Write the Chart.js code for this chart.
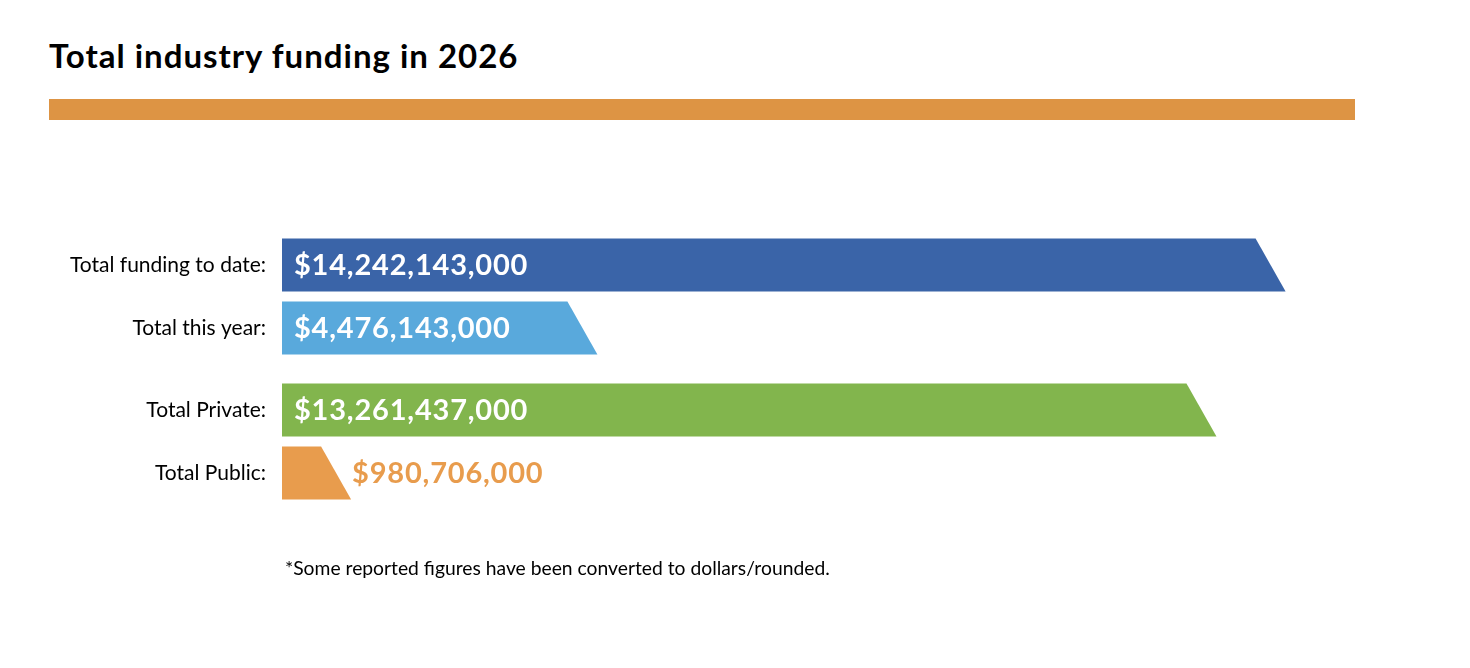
<!DOCTYPE html>
<html>
<head>
<meta charset="utf-8">
<script src="https://cdn.jsdelivr.net/npm/chart.js@4/dist/chart.umd.min.js"></script>
<style>
  html, body { margin: 0; padding: 0; background: #ffffff; }
  body { width: 1470px; height: 668px; position: relative; overflow: hidden; font-family: Lato, sans-serif; }
  #title { position: absolute; left: 49px; top: 35px; font-size: 33px; letter-spacing: 1px; font-weight: 700; color: #000; margin: 0; white-space: nowrap; }
  #rule { position: absolute; left: 49px; top: 99px; width: 1306px; height: 21px; background: #dd9444; }
  #note { position: absolute; left: 285px; top: 556px; font-size: 19.3px; color: #000; white-space: nowrap; }
  #wrap { position: absolute; left: 0; top: 0; width: 1470px; height: 668px; }
</style>
</head>
<body>
<h1 id="title">Total industry funding in 2026</h1>
<div id="rule"></div>
<div id="wrap"><canvas id="fundingChart"></canvas></div>
<div id="note">*Some reported figures have been converted to dollars/rounded.</div>
<script>
(function () {
  'use strict';

  var categories = ['Total funding to date:', 'Total this year:', 'Total Private:', 'Total Public:'];
  var amounts = [14242143000, 4476143000, 13261437000, 980706000];
  var rowPositions = [0, 1, 2.3, 3.3];
  var barColors = ['#3a64a8', '#59a9dc', '#82b54d', '#e89c4d'];

  var SLANT = 30;

  function formatDollars(value) {
    return '$' + new Intl.NumberFormat('en-US').format(value);
  }

  // bars with a slanted right end, plus the value text
  var slantedBars = {
    id: 'slantedBars',
    afterDatasetsDraw: function (chart) {
      var ctx = chart.ctx;
      var meta = chart.getDatasetMeta(0);
      ctx.save();
      meta.data.forEach(function (bar, i) {
        var top = bar.y - bar.height / 2;
        var bottom = bar.y + bar.height / 2;
        ctx.fillStyle = barColors[i];
        ctx.beginPath();
        ctx.moveTo(bar.base, top);
        ctx.lineTo(bar.x - SLANT, top);
        ctx.lineTo(bar.x, bottom);
        ctx.lineTo(bar.base, bottom);
        ctx.closePath();
        ctx.fill();

        var text = formatDollars(amounts[i]);
        ctx.font = '700 29px Lato, sans-serif';
        ctx.letterSpacing = '0.8px';
        ctx.textBaseline = 'middle';
        ctx.textAlign = 'left';
        var w = ctx.measureText(text).width;
        if (w + 24 < bar.x - SLANT - bar.base) {
          ctx.fillStyle = '#ffffff';
          ctx.fillText(text, bar.base + 12, bar.y + 1);
        } else {
          ctx.fillStyle = barColors[i];
          ctx.fillText(text, bar.x + 1, bar.y + 1);
        }
      });
      ctx.restore();
    }
  };

  function renderChart() {
    var canvas = document.getElementById('fundingChart');
    if (!canvas || typeof Chart === 'undefined') return;

    new Chart(canvas, {
      type: 'bar',
      data: {
        datasets: [{
          data: amounts.map(function (v, i) { return { x: v, y: rowPositions[i] }; }),
          backgroundColor: 'rgba(0,0,0,0)',
          borderWidth: 0,
          barThickness: 53
        }]
      },
      options: {
        indexAxis: 'y',
        responsive: true,
        maintainAspectRatio: false,
        animation: false,
        layout: { padding: { left: 0, right: 131, top: 233.5, bottom: 163.6 } },
        scales: {
          x: {
            type: 'linear',
            min: 0,
            max: 15000000000,
            display: false
          },
          y: {
            type: 'linear',
            reverse: true,
            offset: false,
            min: -0.5,
            max: 3.8,
            grid: { display: false, drawTicks: false },
            border: { display: false },
            afterBuildTicks: function (axis) {
              axis.ticks = rowPositions.map(function (v) { return { value: v }; });
            },
            afterFit: function (axis) {
              axis.width = 282;
            },
            ticks: {
              padding: 16,
              color: '#000000',
              font: { family: 'Lato, sans-serif', size: 21 },
              callback: function (value, index) {
                return categories[index];
              }
            }
          }
        },
        plugins: {
          legend: { display: false },
          tooltip: { enabled: false }
        }
      },
      plugins: [slantedBars]
    });
  }

  document.addEventListener('DOMContentLoaded', renderChart);
}());
</script>
</body>
</html>
